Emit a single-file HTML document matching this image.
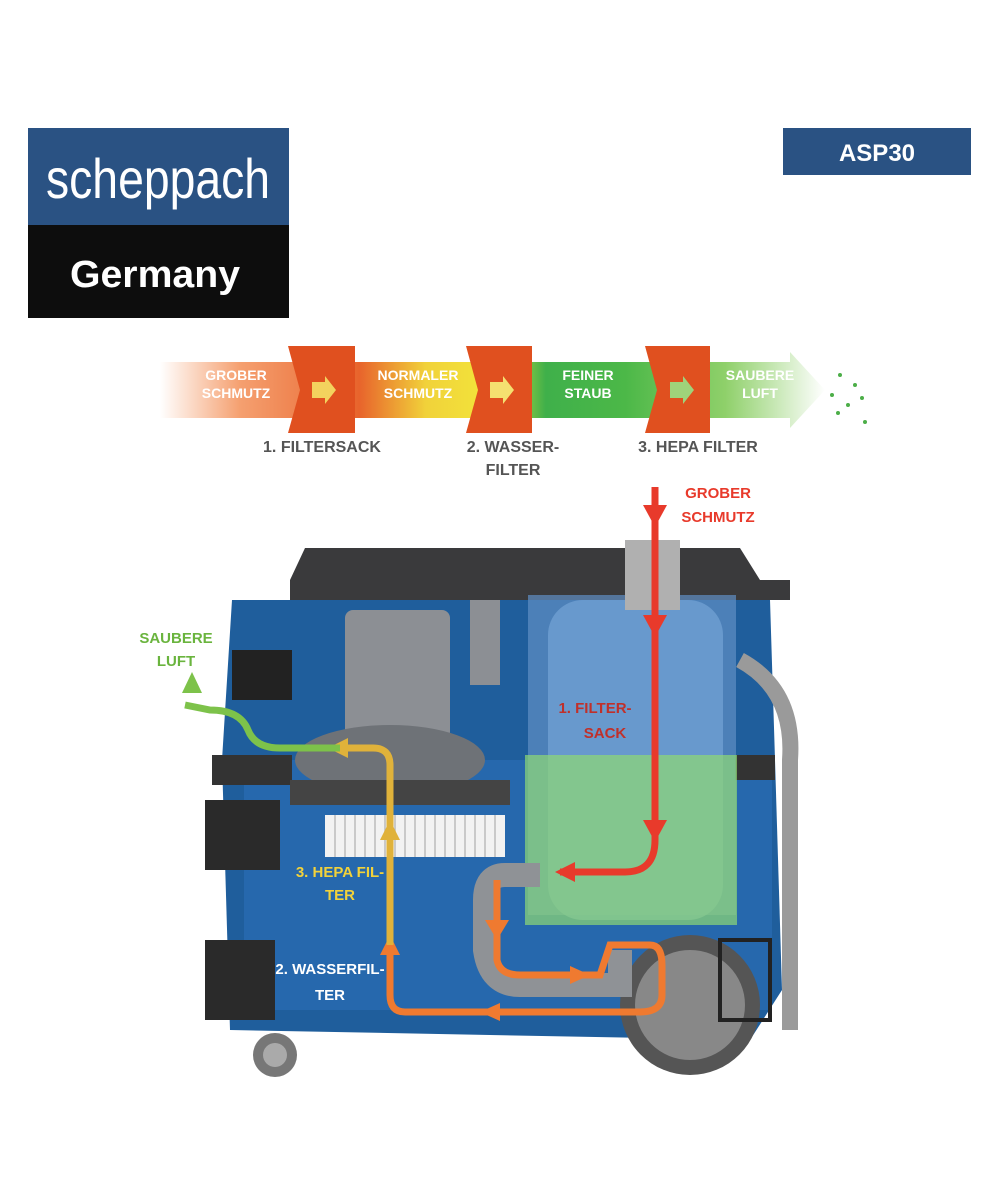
<!DOCTYPE html>
<html><head><meta charset="utf-8"><style>
html,body{margin:0;padding:0;background:#fff}
svg{display:block}
text{font-family:"Liberation Sans",sans-serif;font-weight:bold}
</style></head><body>
<svg width="1000" height="1200" viewBox="0 0 1000 1200">
<defs>
<linearGradient id="fl" x1="0" x2="1">
<stop offset="0" stop-color="#fff"/><stop offset="0.12" stop-color="#f5a070"/><stop offset="0.3" stop-color="#e8642c"/>
<stop offset="0.4" stop-color="#f1d23a"/><stop offset="0.5" stop-color="#f2e63a"/><stop offset="0.58" stop-color="#3fb04a"/>
<stop offset="0.7" stop-color="#4cb848"/><stop offset="0.85" stop-color="#8fd06a"/><stop offset="1" stop-color="#fff"/>
</linearGradient>
</defs>
<rect x="28" y="128" width="261" height="97" fill="#2a5283"/>
<rect x="28" y="225" width="261" height="93" fill="#0d0d0d"/>
<text x="46" y="198" fill="#fff" font-size="56" style="font-weight:normal" textLength="224" lengthAdjust="spacingAndGlyphs">scheppach</text>
<text x="70" y="287" fill="#fff" font-size="38" textLength="170" lengthAdjust="spacingAndGlyphs">Germany</text>
<rect x="783" y="128" width="188" height="47" fill="#2a5283"/>
<text x="877" y="161" fill="#fff" font-size="24" text-anchor="middle">ASP30</text>
<polygon points="160,362 790,362 790,352 825,390 790,428 790,418 160,418" fill="url(#fl)"/>
<polygon points="288,346 355,346 355,433 288,433 300,390" fill="#e0501f"/>
<polygon points="466,346 532,346 532,433 466,433 478,390" fill="#e0501f"/>
<polygon points="645,346 710,346 710,433 645,433 657,390" fill="#e0501f"/>
<polygon points="312,382 325,382 325,376 336,390 325,404 325,398 312,398" fill="#f3d25e"/>
<polygon points="490,382 503,382 503,376 514,390 503,404 503,398 490,398" fill="#f5e070"/>
<polygon points="670,382 683,382 683,376 694,390 683,404 683,398 670,398" fill="#9fd37a"/>
<g fill="#fff" font-size="14" text-anchor="middle">
<text x="236" y="380">GROBER</text><text x="236" y="398">SCHMUTZ</text>
<text x="418" y="380">NORMALER</text><text x="418" y="398">SCHMUTZ</text>
<text x="588" y="380">FEINER</text><text x="588" y="398">STAUB</text>
<text x="760" y="380">SAUBERE</text><text x="760" y="398">LUFT</text>
</g>
<g fill="#4cae48"><circle cx="840" cy="375" r="2"/><circle cx="855" cy="385" r="2"/><circle cx="832" cy="395" r="2"/><circle cx="848" cy="405" r="2"/><circle cx="862" cy="398" r="2"/><circle cx="838" cy="413" r="2"/><circle cx="865" cy="422" r="2"/></g>
<g fill="#555" font-size="16" text-anchor="middle">
<text x="322" y="452">1. FILTERSACK</text>
<text x="513" y="452">2. WASSER-</text><text x="513" y="475">FILTER</text>
<text x="698" y="452">3. HEPA FILTER</text>
</g>
<polygon points="290,580 305,548 740,548 760,580 790,580 790,600 290,600" fill="#3a3a3c"/>
<path d="M232,600 L770,600 L775,760 L782,990 L750,1040 L230,1030 L222,760 Z" fill="#1f5e9c"/>
<rect x="244" y="760" width="528" height="250" fill="#2668ad"/>
<rect x="232" y="650" width="60" height="50" fill="#222"/>
<rect x="205" y="800" width="75" height="70" fill="#2a2a2a"/>
<rect x="205" y="940" width="70" height="80" fill="#2a2a2a"/>
<rect x="212" y="755" width="80" height="30" fill="#333"/>
<rect x="735" y="755" width="40" height="25" fill="#333"/>
<rect x="345" y="610" width="105" height="130" rx="8" fill="#8c8f94"/>
<ellipse cx="390" cy="760" rx="95" ry="35" fill="#6e7277"/>
<rect x="290" y="780" width="220" height="25" fill="#444"/>
<rect x="325" y="815" width="180" height="42" fill="#f2f2f2"/>
<g stroke="#bbb" stroke-width="1.5"><path d="M335,815v42M345,815v42M355,815v42M365,815v42M375,815v42M385,815v42M395,815v42M405,815v42M415,815v42M425,815v42M435,815v42M445,815v42M455,815v42M465,815v42M475,815v42M485,815v42M495,815v42"/></g>
<rect x="470" y="600" width="30" height="85" fill="#8c8f94"/>
<rect x="528" y="595" width="208" height="320" fill="#5f8fc4" opacity="0.7"/>
<rect x="548" y="600" width="175" height="320" rx="35" fill="#6f9fd2" opacity="0.8"/>
<rect x="525" y="755" width="212" height="170" fill="#8fd873" opacity="0.7"/>
<rect x="625" y="540" width="55" height="70" fill="#b0b0b0"/>
<path d="M740,660 Q795,690 790,760 L790,1030" fill="none" stroke="#9a9a9a" stroke-width="16"/>
<circle cx="690" cy="1005" r="70" fill="#555"/><circle cx="690" cy="1005" r="55" fill="#888"/>
<circle cx="275" cy="1055" r="22" fill="#777"/><circle cx="275" cy="1055" r="12" fill="#aaa"/>
<rect x="720" y="940" width="50" height="80" fill="none" stroke="#222" stroke-width="4"/>
<path d="M540,875 L505,875 Q485,875 485,900 L485,950 Q490,985 520,985 L620,985 L620,950" fill="none" stroke="#8f9296" stroke-width="24"/>
<path d="M655,487 L655,840 Q655,872 625,872 L560,872" fill="none" stroke="#e83a2b" stroke-width="7"/>
<g fill="#e83a2b"><polygon points="643,505 667,505 655,527"/><polygon points="643,615 667,615 655,637"/><polygon points="643,820 667,820 655,842"/><polygon points="575,862 575,882 555,872"/></g>
<path d="M497,880 L497,960 Q500,975 520,975 L600,975 L610,945 L650,945 Q662,945 662,965 L662,995 Q662,1012 640,1012 L405,1012 Q390,1012 390,995 L390,945" fill="none" stroke="#ef7a30" stroke-width="7"/>
<g fill="#ef7a30"><polygon points="570,966 570,984 590,975"/><polygon points="485,920 509,920 497,940"/><polygon points="500,1003 500,1021 480,1012"/><polygon points="380,955 400,955 390,935"/></g>
<path d="M390,945 L390,765 Q390,748 373,748 L340,748" fill="none" stroke="#e0b23a" stroke-width="7"/>
<g fill="#e0b23a"><polygon points="380,840 400,840 390,820"/><polygon points="348,738 348,758 328,748"/></g>
<path d="M340,748 L280,748 Q255,748 248,730 Q240,710 210,710 L185,705" fill="none" stroke="#7dc24a" stroke-width="7"/>
<polygon points="182,693 202,693 192,672" fill="#7dc24a"/>
<g font-size="15" text-anchor="middle">
<text x="718" y="498" fill="#e83a2b">GROBER</text><text x="718" y="522" fill="#e83a2b">SCHMUTZ</text>
<text x="176" y="643" fill="#6ab43e">SAUBERE</text><text x="176" y="666" fill="#6ab43e">LUFT</text>
<text x="595" y="713" fill="#c0302a">1. FILTER-</text><text x="605" y="738" fill="#c0302a">SACK</text>
<text x="340" y="877" fill="#f2d23a">3. HEPA FIL-</text><text x="340" y="900" fill="#f2d23a">TER</text>
<text x="330" y="974" fill="#fff">2. WASSERFIL-</text><text x="330" y="1000" fill="#fff">TER</text>
</g>
</svg>
</body></html>
